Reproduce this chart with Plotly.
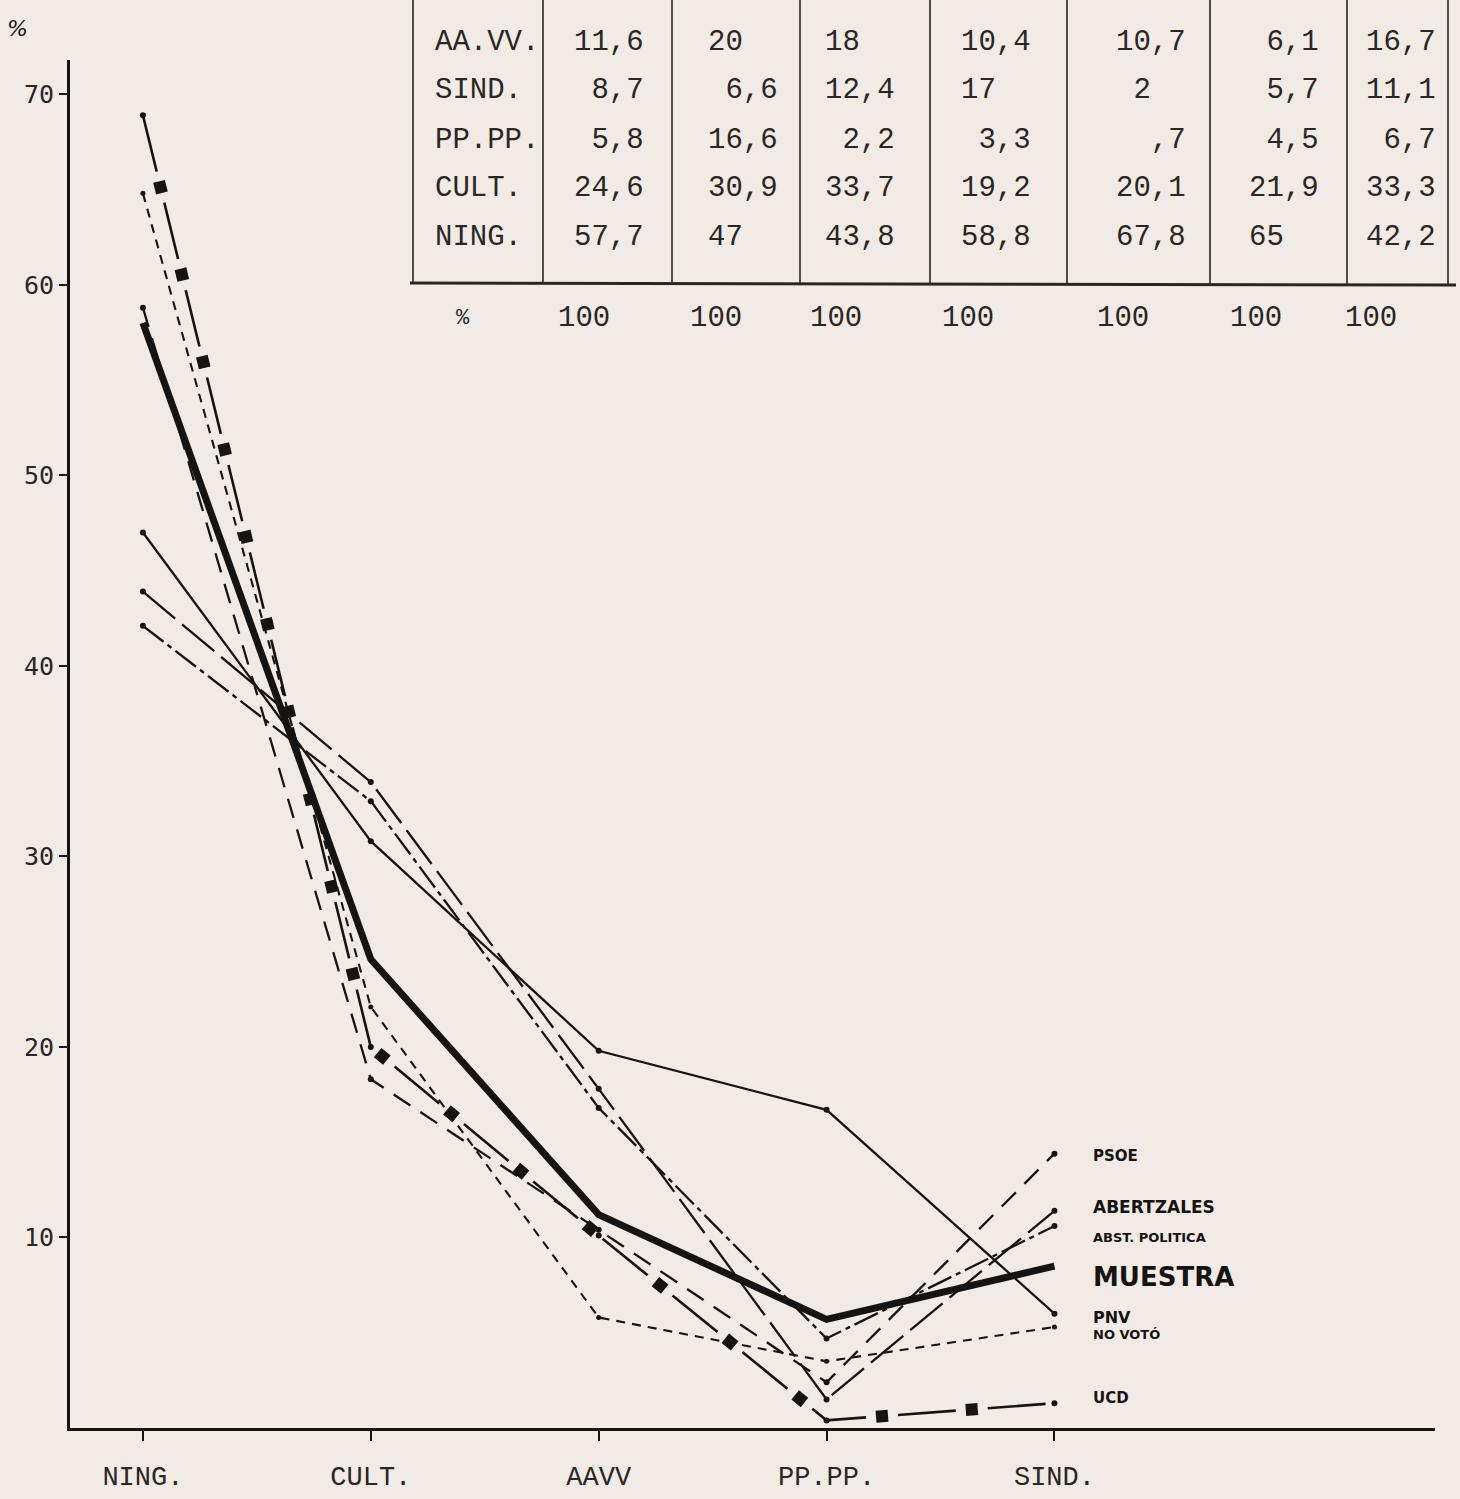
import plotly.graph_objects as go

# ---------------- data ----------------
categories = ["NING.", "CULT.", "AAVV", "PP.PP.", "SIND."]

muestra = [58.0, 24.6, 11.2, 5.7, 8.5]
pnv = [47.0, 30.8, 19.8, 16.7, 6.0]
abertzales = [43.9, 33.9, 17.8, 1.5, 11.4]
psoe = [58.8, 18.3, 10.4, 2.4, 14.4]
ucd = [68.9, 20.0, 10.1, 0.4, 1.3]
no_voto = [64.8, 22.1, 5.8, 3.5, 5.3]
abst_politica = [42.1, 32.9, 16.8, 4.7, 10.6]

y_ticks = [10, 20, 30, 40, 50, 60, 70]

# table printed at the top of the sheet
table_rows = ["AA.VV.", "SIND.", "PP.PP.", "CULT.", "NING."]
table_col1 = [11.6, 8.7, 5.8, 24.6, 57.7]
table_col2 = [20, 6.6, 16.6, 30.9, 47]
table_col3 = [18, 12.4, 2.2, 33.7, 43.8]
table_col4 = [10.4, 17, 3.3, 19.2, 58.8]
table_col5 = [10.7, 2, 0.7, 20.1, 67.8]
table_col6 = [6.1, 5.7, 4.5, 21.9, 65]
table_col7 = [16.7, 11.1, 6.7, 33.3, 42.2]
table_totals = [100, 100, 100, 100, 100, 100, 100]

# labels at the right end of the lines
label_names = ["PSOE", "ABERTZALES", "ABST. POLITICA", "MUESTRA", "PNV", "NO VOTÓ", "UCD"]
label_y = [14.3, 11.6, 10.0, 7.9, 5.8, 4.9, 1.6]

# ---------------- styling ----------------
W, H = 1460, 1499
ML, MR, MT, MB = 70, 25, 60, 71
BG = "#f2eae5"
INK = "#161412"

def px2x(px):
    return (px - ML) / (W - ML - MR)

def py2y(py):
    return (H - MB - py) / (H - MT - MB)

x_idx = list(range(len(categories)))

fig = go.Figure()

def add_line(vals, width, dash, name, marker_size=6):
    fig.add_trace(go.Scatter(
        x=x_idx, y=vals, mode="lines+markers" if marker_size else "lines",
        name=name,
        line=dict(color=INK, width=width, dash=dash),
        marker=dict(color=INK, size=marker_size),
        hoverinfo="skip", showlegend=False,
    ))

add_line(pnv, 2.3, "solid", "PNV")
add_line(abst_politica, 2.3, "26px,5px,5px,5px", "ABST. POLITICA")
add_line(abertzales, 2.3, "42px,9px", "ABERTZALES")
add_line(psoe, 2.3, "20px,12px", "PSOE")
add_line(no_voto, 2.1, "9px,7px", "NO VOTÓ", marker_size=5)
# UCD : long dashes with big dots in the gaps
add_line(ucd, 2.6, "58px,32px", "UCD")
fig.add_trace(go.Scatter(
    x=x_idx, y=ucd, mode="lines",
    line=dict(color=INK, width=12, dash="0px,68px,12px,10px"),
    hoverinfo="skip", showlegend=False,
))
add_line(muestra, 7, "solid", "MUESTRA", marker_size=0)

# ---------------- table (shapes + text) ----------------
shapes = []
col_edges = [413, 543, 672, 800, 930, 1067, 1210, 1347, 1448]
for cx in col_edges:
    shapes.append(dict(type="line", xref="paper", yref="paper",
                       x0=px2x(cx), x1=px2x(cx), y0=py2y(-5), y1=py2y(284),
                       line=dict(color="#2a2624", width=1.6)))
shapes.append(dict(type="line", xref="paper", yref="paper",
                   x0=px2x(410), x1=px2x(1456), y0=py2y(283), y1=py2y(285),
                   line=dict(color="#2a2624", width=3)))

annotations = []
TFONT = dict(family="Liberation Mono, DejaVu Sans Mono, monospace", size=29, color="#2a2624")
row_py = [42, 91, 140, 188, 237]
for lbl, ry in zip(table_rows, row_py):
    annotations.append(dict(text=lbl, xref="paper", yref="paper", x=px2x(433), y=py2y(ry),
                            xanchor="left", yanchor="middle", showarrow=False, font=TFONT))

def fmt(v):
    if float(v).is_integer():
        return str(int(v)).rjust(2).replace(" ", "\u00a0")
    s = f"{v:.1f}".replace(".", ",")
    if s.startswith("0"):
        s = s[1:]
    return s.rjust(4).replace(" ", "\u00a0")

table_cols = [table_col1, table_col2, table_col3, table_col4, table_col5, table_col6, table_col7]
col_text_px = [572, 706, 823, 959, 1114, 1247, 1364]
for col, cpx in zip(table_cols, col_text_px):
    for v, ry in zip(col, row_py):
        annotations.append(dict(text=fmt(v), xref="paper", yref="paper", x=px2x(cpx), y=py2y(ry),
                                xanchor="left", yanchor="middle", showarrow=False, font=TFONT))

total_px = [556, 688, 808, 940, 1095, 1228, 1343]
annotations.append(dict(text="%", xref="paper", yref="paper", x=px2x(463), y=py2y(318),
                        xanchor="center", yanchor="middle", showarrow=False,
                        font=dict(family="Liberation Mono", size=22, color="#2a2624")))
for t, tpx in zip(table_totals, total_px):
    annotations.append(dict(text=str(t), xref="paper", yref="paper", x=px2x(tpx), y=py2y(318),
                            xanchor="left", yanchor="middle", showarrow=False, font=TFONT))

# "%" unit mark at top-left of y axis
annotations.append(dict(text="<i>%</i>", xref="paper", yref="paper", x=px2x(17), y=py2y(28),
                        xanchor="center", yanchor="middle", showarrow=False,
                        font=dict(family="DejaVu Sans", size=22, color=INK)))

# right-end labels
label_sizes = [15, 17, 13, 26, 16, 13, 15]
for name, ly, sz in zip(label_names, label_y, label_sizes):
    annotations.append(dict(text=f"<b>{name}</b>", x=len(categories) - 1, y=ly, xref="x", yref="y",
                            xanchor="left", yanchor="middle", xshift=37, showarrow=False,
                            font=dict(family="DejaVu Sans", size=sz, color=INK)))

fig.update_layout(
    width=W, height=H, autosize=False,
    margin=dict(l=ML, r=MR, t=MT, b=MB),
    paper_bgcolor=BG, plot_bgcolor=BG,
    shapes=shapes, annotations=annotations,
    showlegend=False,
    xaxis=dict(
        range=[-0.32, 5.67], tickvals=x_idx, ticktext=categories,
        showgrid=False, zeroline=False, showline=True, linecolor=INK, linewidth=3,
        ticks="outside", ticklen=10, tickwidth=2, tickcolor=INK,
        tickfont=dict(family="Liberation Mono, DejaVu Sans Mono, monospace", size=27, color="#2a2624"),
        ticklabelstandoff=12, automargin=False,
    ),
    yaxis=dict(
        range=[0, 71.8], tickvals=y_ticks,
        showgrid=False, zeroline=False, showline=True, linecolor=INK, linewidth=3,
        ticks="outside", ticklen=8, tickwidth=2, tickcolor=INK,
        tickfont=dict(family="DejaVu Sans Mono, monospace", size=25, color="#2a2624"),
        automargin=False,
    ),
)

fig.write_html("out.html",
               config={"displayModeBar": False},
               post_script="document.body.style.margin='0';document.body.style.background='%s';" % BG)
